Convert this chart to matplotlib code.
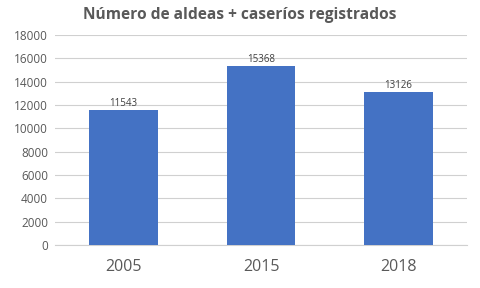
import matplotlib
matplotlib.use("Agg")
import matplotlib.pyplot as plt

categories = ["2005", "2015", "2018"]
values = [11543, 15368, 13126]
yticks = [0, 2000, 4000, 6000, 8000, 10000, 12000, 14000, 16000, 18000]
title = "Número de aldeas + caseríos registrados"

plt.rcParams['font.family'] = ['Open Sans', 'DejaVu Sans']

fig = plt.figure(figsize=(4.8, 2.88), dpi=100)
ax = fig.add_axes([0.1146, 0.149, 0.8584, 0.729])
x = list(range(len(categories)))
bars = ax.bar(x, values, width=0.5, color="#4472C4", zorder=3)
for xi, v in zip(x, values):
    ax.text(xi, v + 100, str(v), ha="center", va="bottom", fontsize=7, color="#404040")

ax.set_xlim(-0.5, 2.5)
ax.set_ylim(0, 18000)
ax.set_yticks(yticks)
ax.set_yticklabels([str(t) for t in yticks], fontsize=8.5, color="#595959")
ax.set_xticks(x)
ax.set_xticklabels(categories, fontsize=11.5, color="#595959")
ax.grid(axis="y", color="#D0D0D0", linewidth=0.8, zorder=0)
for s in ["top", "right", "left"]:
    ax.spines[s].set_visible(False)
ax.spines["bottom"].set_color("#D0D0D0")
ax.tick_params(axis="both", length=0)
ax.tick_params(axis="y", pad=5)
ax.tick_params(axis="x", pad=10)
fig.text(0.5, 0.948, title, ha="center", va="center", fontsize=11.2, fontweight="bold", color="#595959")
fig.savefig("out.png", dpi=100)
